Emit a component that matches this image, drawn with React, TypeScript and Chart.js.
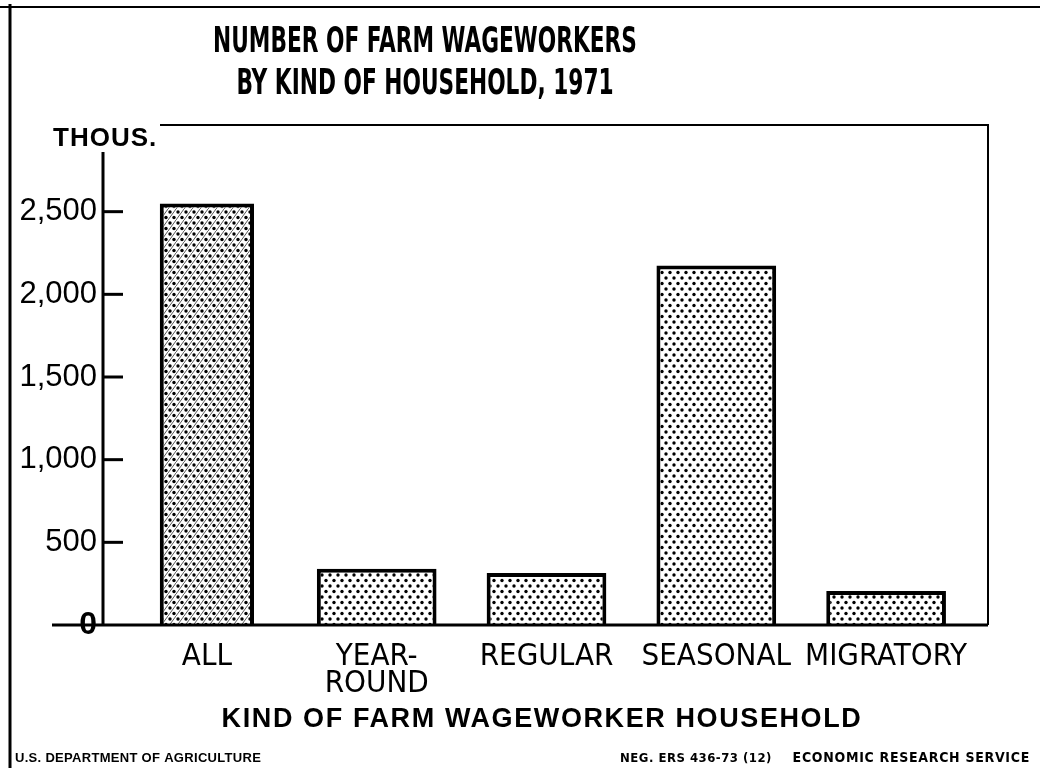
import React, { useEffect, useRef } from 'react';
import { Chart, registerables } from 'chart.js';

Chart.register(...registerables);

// ---- data & text ----
const TITLE_LINES = ['NUMBER OF FARM WAGEWORKERS', 'BY KIND OF HOUSEHOLD, 1971'];
const Y_UNIT = 'THOUS.';
const X_TITLE = 'KIND OF FARM WAGEWORKER HOUSEHOLD';
const FOOTER_LEFT = 'U.S. DEPARTMENT OF AGRICULTURE';
const FOOTER_MID = 'NEG. ERS 436-73 (12)';
const FOOTER_RIGHT = 'ECONOMIC RESEARCH SERVICE';
const CATEGORIES: string[][] = [['ALL'], ['YEAR-', 'ROUND'], ['REGULAR'], ['SEASONAL'], ['MIGRATORY']];
const WORKERS: number[] = [2550, 340, 315, 2175, 205];
const Y_MAX = 3000;
const Y_STEP = 500;
const Y_LAST_LABEL = 2500;
const TOTAL_INDEX = 0; // the "ALL" bar is drawn narrower with a cross-hatch

const NARROW = "'Liberation Sans Narrow', 'DejaVu Sans Condensed', 'Liberation Sans', sans-serif";
const SANS = "'Liberation Sans', Arial, sans-serif";

function makePattern(hatch: boolean): CanvasPattern | string {
  const c = document.createElement('canvas');
  c.width = 8;
  c.height = 11;
  const g = c.getContext('2d');
  if (!g) return '#ddd';
  g.fillStyle = '#fff';
  g.fillRect(0, 0, 8, 11);
  if (hatch) {
    g.strokeStyle = '#444';
    g.lineWidth = 0.9;
    g.beginPath();
    g.moveTo(0, 11);
    g.lineTo(8, 0);
    g.stroke();
  }
  g.fillStyle = '#000';
  g.beginPath();
  g.arc(2, 3, 1.7, 0, Math.PI * 2);
  g.fill();
  g.beginPath();
  g.arc(6, 8.5, 1.7, 0, Math.PI * 2);
  g.fill();
  return g.createPattern(c, 'repeat') || '#ddd';
}

const decorPlugin = {
  id: 'usdaDecor',
  beforeDraw(chart: any) {
    const ctx = chart.ctx;
    ctx.save();
    ctx.fillStyle = '#fff';
    ctx.fillRect(0, 0, chart.width, chart.height);
    ctx.restore();
  },
  afterDatasetsDraw(chart: any) {
    const { ctx, chartArea: a, scales } = chart;
    const y = scales.y;
    const axisX = a.left - 19;
    const frameRight = a.right + 17;
    const zeroY = y.getPixelForValue(0);
    ctx.save();
    ctx.strokeStyle = '#000';
    ctx.lineCap = 'butt';
    // outer sheet border
    ctx.lineWidth = 2;
    ctx.beginPath();
    ctx.moveTo(0, 7);
    ctx.lineTo(chart.width, 7);
    ctx.stroke();
    ctx.lineWidth = 3;
    ctx.beginPath();
    ctx.moveTo(10, 4);
    ctx.lineTo(10, chart.height);
    ctx.stroke();
    // plot frame top & right
    ctx.lineWidth = 2;
    ctx.beginPath();
    ctx.moveTo(160, a.top - 4);
    ctx.lineTo(frameRight, a.top - 4);
    ctx.lineTo(frameRight, zeroY);
    ctx.stroke();
    // y axis line
    ctx.lineWidth = 3;
    ctx.beginPath();
    ctx.moveTo(axisX, a.top + 23);
    ctx.lineTo(axisX, zeroY);
    ctx.stroke();
    // base line
    ctx.beginPath();
    ctx.moveTo(52, zeroY);
    ctx.lineTo(frameRight, zeroY);
    ctx.stroke();
    // inward tick marks
    ctx.lineWidth = 3;
    y.ticks.forEach((t: any) => {
      if (t.value === 0) return;
      const py = y.getPixelForValue(t.value);
      ctx.beginPath();
      ctx.moveTo(axisX, py);
      ctx.lineTo(axisX + 20, py);
      ctx.stroke();
    });
    ctx.restore();
  },
  afterDraw(chart: any) {
    const { ctx } = chart;
    ctx.save();
    ctx.fillStyle = '#000';
    ctx.textBaseline = 'alphabetic';
    // title (condensed bold)
    ctx.textAlign = 'center';
    ctx.font = `bold 36px ${NARROW}`;
    TITLE_LINES.forEach((line, i) => {
      ctx.save();
      ctx.translate(425, 52 + i * 42);
      ctx.scale(0.67, 1);
      ctx.fillText(line, 0, 0);
      ctx.restore();
    });
    // unit label
    ctx.textAlign = 'left';
    ctx.font = `bold 26px ${SANS}`;
    (ctx as any).letterSpacing = '1px';
    ctx.fillText(Y_UNIT, 53, 146);
    // x axis title
    ctx.textAlign = 'center';
    ctx.font = `bold 27px ${SANS}`;
    (ctx as any).letterSpacing = '1.6px';
    ctx.fillText(X_TITLE, 542, 727);
    // footer
    ctx.font = `bold 13px ${SANS}`;
    (ctx as any).letterSpacing = '0.3px';
    ctx.textAlign = 'left';
    ctx.fillText(FOOTER_LEFT, 15, 762);
    ctx.font = `bold 13px ${NARROW}`;
    (ctx as any).letterSpacing = '0.5px';
    ctx.fillText(FOOTER_MID, 620, 762);
    ctx.font = `bold 14px ${NARROW}`;
    (ctx as any).letterSpacing = '0.7px';
    ctx.textAlign = 'right';
    ctx.fillText(FOOTER_RIGHT, 1030, 762);
    ctx.restore();
  },
};

export default function App() {
  const ref = useRef<HTMLCanvasElement | null>(null);

  useEffect(() => {
    if (!ref.current) return;
    const dotted = makePattern(false);
    const hatched = makePattern(true);
    const totalData = WORKERS.map((v, i) => (i === TOTAL_INDEX ? v : null));
    const groupData = WORKERS.map((v, i) => (i === TOTAL_INDEX ? null : v));

    const chart = new Chart(ref.current, {
      type: 'bar',
      data: {
        labels: CATEGORIES as any,
        datasets: [
          {
            label: 'All households',
            data: totalData,
            backgroundColor: hatched as any,
            borderColor: '#000',
            borderWidth: 4,
            borderSkipped: 'bottom',
            barPercentage: 0.555,
            categoryPercentage: 1,
            grouped: false,
          } as any,
          {
            label: 'By kind of household',
            data: groupData,
            backgroundColor: dotted as any,
            borderColor: '#000',
            borderWidth: 4,
            borderSkipped: 'bottom',
            barPercentage: 0.705,
            categoryPercentage: 1,
            grouped: false,
          } as any,
        ],
      },
      options: {
        animation: false,
        responsive: false,
        maintainAspectRatio: false,
        devicePixelRatio: 1,
        layout: { padding: { top: 129, right: 69, bottom: 63, left: 0 } },
        plugins: {
          legend: { display: false },
          title: { display: false },
          tooltip: { enabled: false },
        },
        scales: {
          x: {
            type: 'category',
            grid: { display: false },
            border: { display: false },
            afterFit: (s: any) => {
              s.height = 80;
            },
            ticks: {
              color: '#000',
              autoSkip: false,
              maxRotation: 0,
              padding: 10,
              font: { family: NARROW, size: 31, lineHeight: 0.88 },
            },
          },
          y: {
            type: 'linear',
            min: 0,
            max: Y_MAX,
            grid: { display: false },
            border: { display: false },
            afterFit: (s: any) => {
              s.width = 122;
            },
            afterBuildTicks: (s: any) => {
              s.ticks = s.ticks.filter((t: any) => t.value <= Y_LAST_LABEL);
            },
            ticks: {
              stepSize: Y_STEP,
              color: '#000',
              padding: 17,
              callback: (v: any) => Number(v).toLocaleString('en-US'),
              font: (c: any) =>
                c.tick && c.tick.value === 0
                  ? { family: SANS, size: 32, weight: 'bold' }
                  : { family: SANS, size: 31 },
            },
          },
        },
      },
      plugins: [decorPlugin],
    });
    return () => chart.destroy();
  }, []);

  return (
    <div style={{ position: 'fixed', left: 0, top: 0, width: 1040, height: 768, background: '#fff' }}>
      <canvas ref={ref} width={1040} height={768} style={{ width: 1040, height: 768 }} />
    </div>
  );
}
